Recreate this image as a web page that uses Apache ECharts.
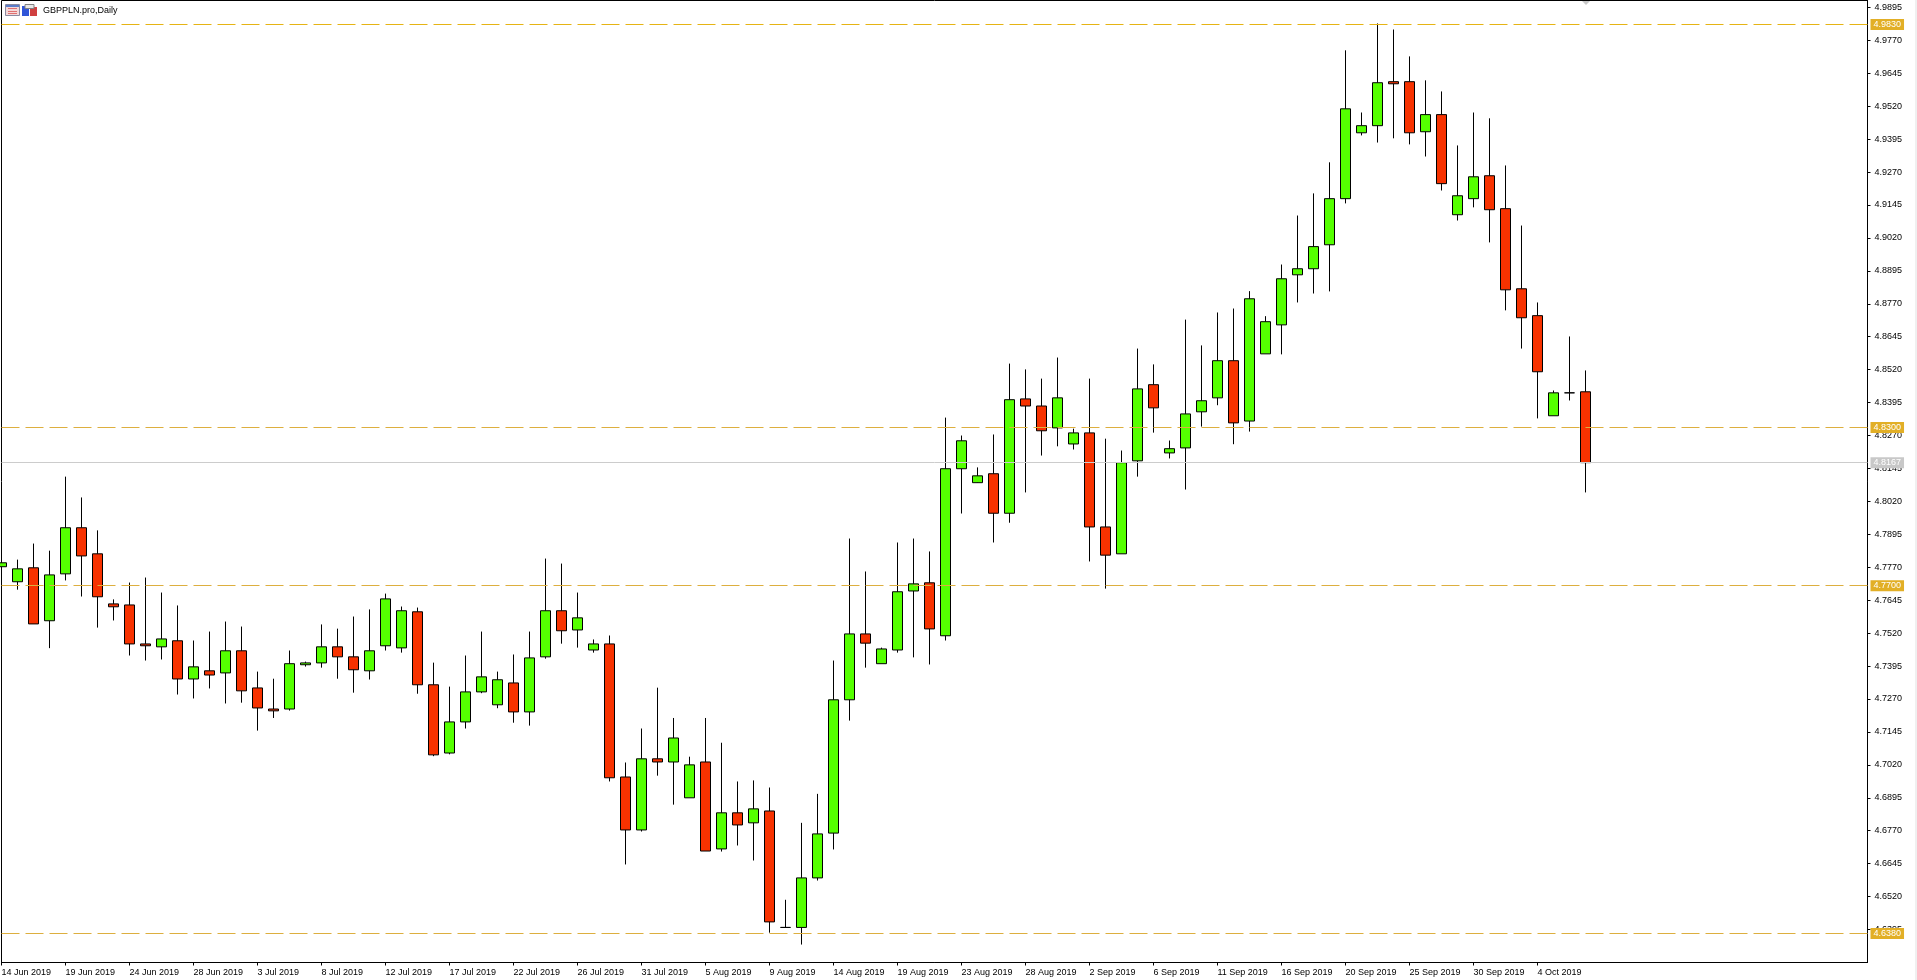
<!DOCTYPE html>
<html>
<head>
<meta charset="utf-8">
<title>GBPPLN.pro,Daily</title>
<style>html,body{margin:0;padding:0;background:#fff;overflow:hidden}#c{width:1917px;height:980px}</style>
<script src="https://cdn.jsdelivr.net/npm/echarts@6/dist/echarts.min.js"></script>
</head>
<body>
<div id="c"></div>
<script>
const symbolTitle = 'GBPPLN.pro,Daily';
const dateLabels = ['14 Jun 2019','19 Jun 2019','24 Jun 2019','28 Jun 2019','3 Jul 2019','8 Jul 2019','12 Jul 2019','17 Jul 2019','22 Jul 2019','26 Jul 2019','31 Jul 2019','5 Aug 2019','9 Aug 2019','14 Aug 2019','19 Aug 2019','23 Aug 2019','28 Aug 2019','2 Sep 2019','6 Sep 2019','11 Sep 2019','16 Sep 2019','20 Sep 2019','25 Sep 2019','30 Sep 2019','4 Oct 2019'];
const priceTicks = [4.9895,4.9770,4.9645,4.9520,4.9395,4.9270,4.9145,4.9020,4.8895,4.8770,4.8645,4.8520,4.8395,4.8270,4.8145,4.8020,4.7895,4.7770,4.7645,4.7520,4.7395,4.7270,4.7145,4.7020,4.6895,4.6770,4.6645,4.6520,4.6395];
const levels = [4.9830,4.8300,4.7700,4.6380];
const lastPrice = 4.8167;
const opens = [4.7772,4.7715,4.7768,4.7567,4.7745,4.7920,4.7821,4.7631,4.7627,4.7479,4.7468,4.7491,4.7346,4.7377,4.7369,4.7453,4.7312,4.7232,4.7232,4.7400,
4.7407,4.7468,4.7430,4.7377,4.7472,4.7464,4.7601,4.7324,4.7065,4.7183,4.7297,4.7248,4.7331,4.7221,4.7430,4.7605,4.7532,4.7456,4.7479,4.6974,
4.6773,4.7043,4.7031,4.6895,4.7031,4.6701,4.6838,4.6800,4.6845,4.6403,4.6403,4.6591,4.6761,4.7267,4.7517,4.7404,4.7456,4.7680,4.7711,4.7510,
4.8144,4.8091,4.8125,4.7975,4.8409,4.8382,4.8299,4.8238,4.8280,4.7923,4.7821,4.8174,4.8463,4.8204,4.8223,4.8360,4.8413,4.8554,4.8325,4.8580,
4.8690,4.8880,4.8903,4.8994,4.9169,4.9419,4.9446,4.9613,4.9613,4.9423,4.9488,4.9108,4.9169,4.9256,4.9131,4.8827,4.8725,4.8345,4.8432,4.8436];
const closes = [4.7787,4.7764,4.7555,4.7741,4.7920,4.7813,4.7658,4.7620,4.7479,4.7472,4.7498,4.7346,4.7392,4.7361,4.7453,4.7301,4.7236,4.7225,4.7404,4.7407,
4.7468,4.7430,4.7381,4.7453,4.7650,4.7605,4.7324,4.7058,4.7183,4.7297,4.7354,4.7343,4.7221,4.7426,4.7605,4.7529,4.7578,4.7479,4.6971,4.6773,
4.7043,4.7031,4.7122,4.7020,4.6693,4.6838,4.6792,4.6853,4.6424,4.6403,4.6591,4.6758,4.7267,4.7517,4.7482,4.7460,4.7677,4.7707,4.7536,4.8144,
4.8250,4.8117,4.7975,4.8406,4.8382,4.8288,4.8413,4.8280,4.7923,4.7816,4.8167,4.8447,4.8375,4.8220,4.8352,4.8402,4.8554,4.8318,4.8789,4.8702,
4.8865,4.8903,4.8987,4.9169,4.9510,4.9446,4.9609,4.9605,4.9419,4.9488,4.9226,4.9180,4.9252,4.9127,4.8823,4.8717,4.8512,4.8432,4.8432,4.8167];
const lows = [4.7772,4.7685,4.7555,4.7463,4.7720,4.7659,4.7541,4.7568,4.7435,4.7416,4.7420,4.7287,4.7272,4.7310,4.7253,4.7256,4.7150,4.7198,4.7226,4.7393,
4.7389,4.7347,4.7294,4.7344,4.7454,4.7446,4.7290,4.7053,4.7060,4.7158,4.7292,4.7235,4.7180,4.7169,4.7423,4.7480,4.7465,4.7446,4.6957,4.6642,
4.6767,4.6979,4.6869,4.6895,4.6693,4.6691,4.6714,4.6657,4.6383,4.6403,4.6338,4.6581,4.6699,4.7188,4.7389,4.7404,4.7446,4.7428,4.7401,4.7492,
4.7974,4.8090,4.7864,4.7939,4.8054,4.8194,4.8229,4.8217,4.7792,4.7689,4.7821,4.8114,4.8281,4.8183,4.8065,4.8304,4.8385,4.8237,4.8285,4.8580,
4.8578,4.8775,4.8809,4.8817,4.9151,4.9409,4.9382,4.9398,4.9375,4.9329,4.9200,4.9086,4.9136,4.9003,4.8745,4.8600,4.8335,4.8345,4.8403,4.8054];
const highs = [4.7787,4.7799,4.7860,4.7833,4.8114,4.8035,4.7910,4.7648,4.7712,4.7731,4.7674,4.7625,4.7492,4.7526,4.7564,4.7545,4.7374,4.7347,4.7454,4.7412,
4.7553,4.7537,4.7583,4.7610,4.7670,4.7621,4.7617,4.7408,4.7317,4.7435,4.7526,4.7374,4.7439,4.7526,4.7803,4.7784,4.7674,4.7496,4.7511,4.7029,
4.7158,4.7313,4.7198,4.7051,4.7198,4.7104,4.6957,4.6961,4.6934,4.6508,4.6800,4.6910,4.7416,4.7879,4.7754,4.7465,4.7864,4.7879,4.7830,4.8338,
4.8270,4.8149,4.8274,4.8543,4.8521,4.8486,4.8566,4.8296,4.8486,4.8258,4.8213,4.8600,4.8540,4.8251,4.8710,4.8612,4.8737,4.8752,4.8818,4.8723,
4.8919,4.9105,4.9189,4.9307,4.9732,4.9496,4.9834,4.9811,4.9709,4.9618,4.9576,4.9371,4.9496,4.9474,4.9295,4.9067,4.8775,4.8441,4.8646,4.8517];

const FONT = '"Liberation Sans", Arial, sans-serif';
const candles = opens.map((o, i) => [i, o, closes[i], lows[i], highs[i]]);
const dateTicks = dateLabels.map((_, i) => i * 4);

const levelLine = (v, color) => ({
  yAxis: v,
  lineStyle: { color: color, type: [18, 6], width: 1 },
  label: { backgroundColor: '#E2AF26', color: '#fff' }
});

const chart = echarts.init(document.getElementById('c'), null, { renderer: 'canvas', width: 1917, height: 980 });
chart.setOption({
  animation: false,
  backgroundColor: '#ffffff',
  title: {
    text: symbolTitle, left: 43, top: 6, padding: 0,
    textStyle: { fontFamily: FONT, fontSize: 9, fontWeight: 'normal', color: '#000' }
  },
  grid: { left: 1.5, top: 0.5, width: 1866, height: 962, outerBoundsMode: 'none', show: true, borderColor: '#000', borderWidth: 1, backgroundColor: '#fff' },
  xAxis: {
    type: 'value', min: 0, max: 116.625,
    splitLine: { show: false },
    axisLine: { show: true, onZero: false, lineStyle: { color: '#000', width: 1 } },
    axisTick: { show: true, length: 3, customValues: dateTicks, lineStyle: { color: '#000' } },
    axisLabel: {
      customValues: dateTicks, align: 'left', margin: 6, hideOverlap: false,
      fontFamily: FONT, fontSize: 9, color: '#000',
      formatter: v => dateLabels[Math.round(v / 4)] || ''
    }
  },
  yAxis: {
    type: 'value', position: 'right', min: 4.62699, max: 4.99211, scale: true,
    splitLine: { show: false },
    axisLine: { show: true, onZero: false, lineStyle: { color: '#000', width: 1 } },
    axisTick: { show: true, length: 3, customValues: priceTicks, lineStyle: { color: '#000' } },
    axisLabel: {
      customValues: priceTicks, margin: 7, hideOverlap: false, padding: [2, 0, 0, 0],
      fontFamily: FONT, fontSize: 9, color: '#000',
      formatter: v => v.toFixed(4)
    }
  },
  series: [{
    type: 'candlestick',
    barWidth: 10,
    encode: { x: 0, y: [1, 2, 3, 4] },
    data: candles,
    itemStyle: {
      color: '#55FF00', color0: '#F73200',
      borderColor: '#000', borderColor0: '#000', borderColorDoji: '#000', borderWidth: 1
    },
    markLine: {
      silent: true, symbol: 'none', animation: false, precision: 4,
      label: {
        show: true, position: 'end', distance: 3,
        fontFamily: FONT, fontSize: 9, lineHeight: 11, padding: [0, 3, 0, 3],
        formatter: p => p.value.toFixed(4)
      },
      data: [
        levelLine(levels[0], '#E6B414'),
        levelLine(levels[1], '#DDAF3F'),
        levelLine(levels[2], '#DDAF3F'),
        levelLine(levels[3], '#DDAF3F'),
        {
          yAxis: lastPrice,
          lineStyle: { color: '#CCCCCC', type: 'solid', width: 1 },
          label: { backgroundColor: '#C8C8C8', color: '#fff' }
        }
      ]
    }
  }],
  graphic: [
    { type: 'rect', z: 100, shape: { x: 1915, y: 0, width: 2, height: 980 }, style: { fill: '#F0F0F0' } },
    { type: 'polygon', z: 100, shape: { points: [[1582, 1], [1590, 1], [1586, 5]] }, style: { fill: '#C8C8C8' } },
    { type: 'rect', z: 100, shape: { x: 5.5, y: 4.5, width: 14, height: 11 }, style: { fill: '#F4D8D8', stroke: '#8A8AA0', lineWidth: 1 } },
    { type: 'rect', z: 100, shape: { x: 6, y: 5, width: 13, height: 2 }, style: { fill: '#5A7CC8' } },
    { type: 'rect', z: 100, shape: { x: 8, y: 8, width: 9, height: 1 }, style: { fill: '#E07070' } },
    { type: 'rect', z: 100, shape: { x: 8, y: 11, width: 9, height: 1 }, style: { fill: '#E07070' } },
    { type: 'rect', z: 100, shape: { x: 8, y: 13, width: 9, height: 1 }, style: { fill: '#E07070' } },
    { type: 'rect', z: 100, shape: { x: 22, y: 6, width: 7, height: 10 }, style: { fill: '#2F55D8' } },
    { type: 'rect', z: 100, shape: { x: 30, y: 7, width: 7, height: 9 }, style: { fill: '#D04040' } },
    { type: 'rect', z: 100, shape: { x: 25, y: 4.5, width: 9, height: 4 }, style: { fill: '#E8E8E8', stroke: '#808080', lineWidth: 1 } }
  ]
});
</script>
</body>
</html>
